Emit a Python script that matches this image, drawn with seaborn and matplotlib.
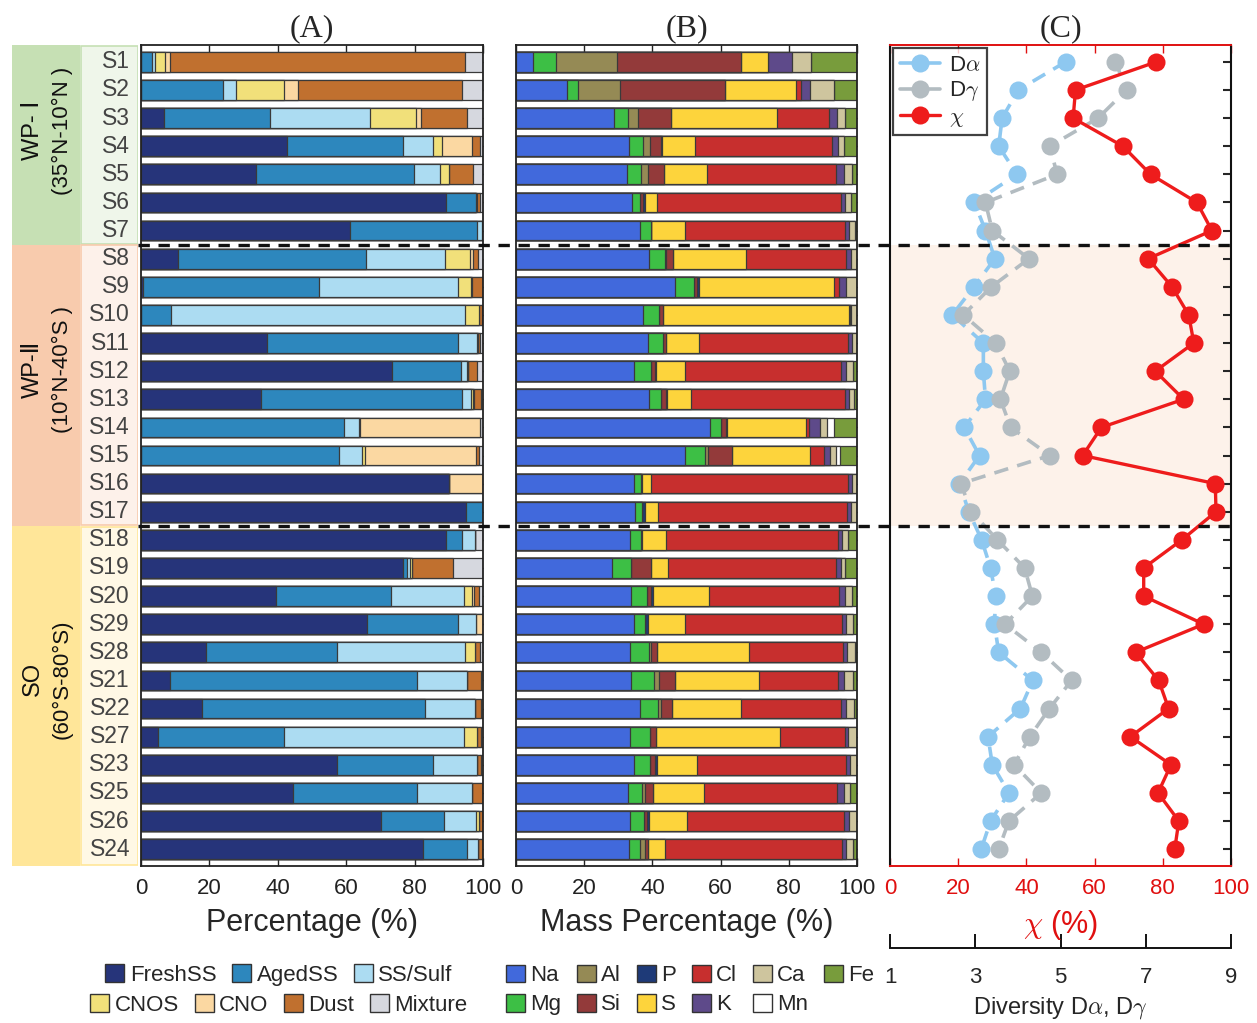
import matplotlib
matplotlib.use("Agg")
import matplotlib.pyplot as plt
import matplotlib.transforms as mtrans
from matplotlib.patches import Rectangle, Patch
from matplotlib.lines import Line2D
import numpy as np
import pandas as pd
import seaborn as sns

# ---------------- data ----------------
samples = ["S1", "S2", "S3", "S4", "S5", "S6", "S7",
           "S8", "S9", "S10", "S11", "S12", "S13", "S14", "S15", "S16", "S17",
           "S18", "S19", "S20", "S29", "S28", "S21", "S22", "S27", "S23", "S25", "S26", "S24"]

group_names = ["WP- Ⅰ", "WP-Ⅱ", "SO"]
group_ranges = ["(35°N-10°N )", "(10°N-40°S )", "(60°S-80°S)"]
group_sizes = [7, 10, 12]

# (A) particle types, % of particles per sample
type_names = ["FreshSS", "AgedSS", "SS/Sulf", "CNOS", "CNO", "Dust", "Mixture"]
fresh_ss = [0, 0, 6.7, 42.6, 33.7, 89.3, 61.1, 10.7, 0.5, 0, 36.9, 73.5, 35.1, 0, 0, 90.0, 94.9,
            89.1, 76.7, 39.6, 66.2, 19.1, 8.6, 17.7, 5.0, 57.2, 44.5, 70.2, 82.5]
aged_ss = [3.2, 23.9, 31.0, 34.0, 46.1, 8.6, 37.0, 55.1, 51.5, 8.9, 55.9, 20.2, 58.9, 59.3, 57.9, 0, 5.1,
           4.9, 1.0, 33.4, 26.6, 38.3, 72.0, 65.3, 36.8, 28.2, 36.3, 18.4, 12.9]
ss_sulf = [0.8, 4.0, 29.2, 8.7, 7.6, 0, 1.5, 23.0, 40.8, 85.8, 5.3, 1.6, 2.6, 4.4, 6.6, 0, 0,
           3.6, 1.1, 21.4, 5.2, 37.3, 14.6, 14.7, 52.6, 12.9, 15.9, 9.4, 3.1]
cnos = [2.9, 14.0, 13.4, 2.6, 2.8, 0, 0, 7.4, 3.8, 4.0, 0.3, 0.3, 0.4, 0.3, 0.9, 0, 0,
        0, 0.3, 2.3, 0, 2.9, 0, 0, 3.9, 0, 0, 0.7, 0]
cno = [1.5, 4.1, 1.7, 8.8, 0, 0.3, 0, 1.0, 0.2, 0, 0, 0, 0.4, 35.0, 32.5, 10.0, 0,
       0, 0, 0.7, 2.0, 0, 0, 0, 0, 0, 0, 0, 0]
dust = [86.3, 48.0, 13.4, 2.3, 7.0, 0.8, 0, 1.3, 3.2, 1.0, 0.8, 2.7, 1.9, 0, 0.8, 0, 0,
        0, 12.2, 1.3, 0, 1.4, 4.1, 1.8, 1.0, 1.0, 3.3, 1.3, 1.5]
mixture = [5.3, 6.0, 4.6, 1.0, 2.8, 1.0, 0.4, 1.5, 0, 0.3, 0.8, 1.7, 0.7, 1.0, 1.3, 0, 0,
           2.4, 8.7, 1.3, 0, 1.0, 0.7, 0.5, 0.7, 0.7, 0, 0, 0]

# (B) elemental mass percentage per sample
element_names = ["Na", "Mg", "Al", "Si", "P", "S", "Cl", "K", "Ca", "Mn", "Fe"]
na = [5.1, 15.1, 28.6, 33.2, 32.6, 34.1, 36.4, 38.9, 46.5, 37.2, 38.7, 34.6, 39.0, 56.8, 49.7, 34.6, 34.8,
      33.5, 28.2, 33.8, 34.6, 33.3, 33.8, 36.3, 33.3, 34.6, 32.8, 33.3, 33.0]
mg = [6.6, 3.1, 4.2, 3.9, 4.2, 2.3, 3.3, 4.7, 5.6, 4.6, 4.4, 4.9, 3.6, 3.4, 5.6, 2.0, 2.2,
      3.1, 5.4, 4.6, 3.3, 5.7, 6.7, 5.3, 6.1, 4.6, 4.2, 4.2, 3.3]
al = [17.9, 12.2, 3.0, 2.1, 1.9, 0, 0, 0.5, 0, 0, 0, 0, 0, 0, 1.0, 0, 0,
      0, 0, 0, 0, 0.7, 1.3, 0.8, 0, 0, 0.7, 0, 1.4]
si = [36.3, 30.8, 9.8, 3.2, 4.6, 0.7, 0, 1.9, 1.1, 1.3, 1.0, 1.2, 1.3, 1.3, 7.0, 0, 0,
      0, 6.1, 1.3, 0, 1.7, 4.9, 3.4, 1.8, 1.7, 2.5, 1.0, 1.0]
p = [0, 0, 0, 0.4, 0, 0.6, 0, 0, 0.5, 0, 0, 0.5, 0.5, 0.5, 0, 0.4, 0.7,
     0.4, 0, 0.5, 0.8, 0, 0, 0, 0, 0.5, 0, 0.4, 0]
s = [8.0, 20.8, 30.9, 9.6, 12.8, 3.7, 9.8, 21.5, 39.6, 54.5, 9.5, 8.3, 7.0, 22.9, 22.8, 2.5, 3.9,
     7.1, 4.9, 16.4, 10.8, 26.8, 24.5, 20.1, 36.1, 11.8, 14.9, 11.1, 5.1]
cl = [0, 1.7, 15.3, 40.3, 37.6, 53.8, 46.9, 29.4, 1.4, 0.4, 43.8, 45.9, 45.0, 1.0, 4.2, 57.9, 55.5,
      50.3, 49.3, 38.1, 46.1, 27.7, 23.2, 29.5, 19.1, 43.7, 39.1, 46.2, 51.9]
k = [7.0, 2.5, 2.3, 1.7, 2.5, 1.2, 1.4, 1.4, 2.2, 0.3, 1.1, 1.5, 1.3, 3.2, 1.7, 1.1, 1.2,
     1.3, 1.5, 1.7, 1.3, 1.2, 1.7, 1.5, 1.0, 1.1, 1.9, 1.6, 1.2]
ca = [5.5, 7.1, 2.5, 1.8, 2.3, 1.7, 1.6, 1.7, 3.1, 1.7, 1.5, 1.9, 1.4, 2.0, 1.7, 1.5, 1.7,
      1.7, 1.2, 2.1, 1.9, 2.2, 2.7, 2.1, 2.6, 2.0, 1.9, 2.2, 1.9]
mn = [0, 0, 0, 0, 0, 0, 0, 0, 0, 0, 0, 0, 0, 2.3, 1.2, 0, 0,
      0, 0, 0, 0, 0, 0, 0, 0, 0, 0, 0, 0]
fe = [13.6, 6.7, 3.4, 3.8, 1.5, 1.9, 0.6, 0, 0, 0, 0, 1.2, 0.9, 6.6, 5.1, 0, 0,
      2.6, 3.4, 1.5, 1.2, 0.7, 1.2, 1.0, 0, 0, 2.0, 0, 1.2]

# (C) mixing state index and diversities
chi = [78.1, 54.4, 53.7, 68.3, 76.4, 90.0, 94.4, 75.7, 82.7, 87.6, 89.1, 77.8, 86.1, 62.0, 56.5, 95.4, 95.6,
       85.6, 74.4, 74.4, 92.0, 72.0, 78.8, 81.7, 70.5, 82.4, 78.6, 84.7, 83.5]
d_alpha = [5.12, 4.01, 3.63, 3.55, 3.98, 2.98, 3.24, 3.46, 2.97, 2.46, 3.19, 3.19, 3.24, 2.74, 3.10, 2.63, 2.85,
           3.15, 3.36, 3.48, 3.45, 3.55, 4.35, 4.06, 3.30, 3.40, 3.79, 3.36, 3.14]
d_gamma = [6.29, 6.55, 5.88, 4.75, 4.92, 3.24, 3.40, 4.26, 3.38, 2.72, 3.48, 3.81, 3.59, 3.83, 4.75, 2.66, 2.91,
           3.52, 4.16, 4.34, 3.70, 4.55, 5.26, 4.74, 4.28, 3.91, 4.55, 3.79, 3.55]

type_colors = ["#26347a", "#2d87bd", "#acdcf2", "#f1e07a", "#fbd8a2", "#c0702f", "#d6d8df"]
element_colors = ["#4169dc", "#3dbf45", "#958a55", "#933a3a", "#1e3a78", "#fdd43c",
                  "#c72f2e", "#5e4a8a", "#cec59e", "#ffffff", "#789c3c"]

# ---------------- style ----------------
sns.set_style("white")
plt.rcParams["font.family"] = ["Liberation Sans", "DejaVu Sans"]
plt.rcParams["mathtext.fontset"] = "cm"

W, H = 1257, 1023
fig = plt.figure(figsize=(W / 100, H / 100), dpi=100)


def box(x0, y0, x1, y1):
    return [x0 / W, 1 - y1 / H, (x1 - x0) / W, (y1 - y0) / H]


ax_a = fig.add_axes(box(141, 45, 483, 866))
ax_b = fig.add_axes(box(516, 45, 857, 866))
ax_c = fig.add_axes(box(890, 45, 1231, 866))
ax_l = fig.add_axes(box(12, 45, 138, 866))

n = len(samples)
rows = np.arange(n)
ylim = (n - 0.4, -0.6)
edge = "#3a3a3a"


def stacked(ax, layers, colors):
    cum = np.cumsum(np.array(layers, dtype=float), axis=0)
    # longest cumulative bar first, each shorter one painted on top
    for j in range(len(layers) - 1, -1, -1):
        df = pd.DataFrame({"sample": samples, "value": cum[j]})
        sns.barplot(data=df, x="value", y="sample", order=samples, orient="h",
                    color=colors[j], saturation=1, width=0.7, errorbar=None,
                    edgecolor=edge, linewidth=0.9, ax=ax)
    ax.set_xlim(0, 100)
    ax.set_ylim(*ylim)
    ax.set_xticks(np.arange(0, 101, 20))
    ax.set_yticks(rows)
    ax.set_yticklabels([])
    ax.set_ylabel("")
    ax.tick_params(axis="x", direction="in", top=True, bottom=True, length=6, width=1,
                   labelsize=16, pad=9, colors="#222")
    ax.tick_params(axis="y", direction="in", left=True, right=True, length=4, width=1,
                   labelleft=False)
    for sp in ax.spines.values():
        sp.set_visible(True)
        sp.set_color("#222")
        sp.set_linewidth(1.3)


stacked(ax_a, [fresh_ss, aged_ss, ss_sulf, cnos, cno, dust, mixture], type_colors)
stacked(ax_b, [na, mg, al, si, p, s, cl, k, ca, mn, fe], element_colors)
ax_a.set_xlabel("Percentage (%)", fontsize=22, labelpad=6)
ax_b.set_xlabel("Mass Percentage (%)", fontsize=22, labelpad=6)

for ax, t in [(ax_a, "(A)"), (ax_b, "(B)"), (ax_c, "(C)")]:
    ax.set_title(t, fontfamily="Liberation Serif", fontsize=23, pad=6)

# ---------------- region / sample labels ----------------
group_fill = ["#c6e0b4", "#f8cbad", "#ffe699"]
label_fill = ["#eff6ea", "#fdf1ea", "#fff8e5"]
ax_l.set_xlim(12, 138)
ax_l.set_ylim(*ylim)
ax_l.axis("off")
start = 0
for g in range(3):
    top = ylim[1] if g == 0 else start - 0.5
    bottom = ylim[0] if g == 2 else start + group_sizes[g] - 0.5
    ax_l.add_patch(Rectangle((12, top), 68, bottom - top, facecolor=group_fill[g], edgecolor="none"))
    ax_l.add_patch(Rectangle((80.5, top + 0.03), 57, bottom - top - 0.06, facecolor=label_fill[g],
                             edgecolor=group_fill[g], linewidth=1.2))
    mid = start + (group_sizes[g] - 1) / 2
    ax_l.text(33, mid - 0.55, group_names[g], rotation=90, ha="center", va="center",
              fontsize=17, color="#111")
    ax_l.text(62, mid - 0.55, group_ranges[g], rotation=90, ha="center", va="center",
              fontsize=16, color="#111")
    start += group_sizes[g]
for i, name in enumerate(samples):
    ax_l.text(130, i, name, ha="right", va="center", fontsize=16.5, color="#444")

# ---------------- panel C ----------------
ax_d = ax_c.twiny()
ax_c.set_zorder(ax_d.get_zorder() + 1)
ax_c.patch.set_visible(False)
ax_d.set_xlim(1, 9)
ax_d.axhspan(6.5, 16.5, color="#fdf2ea", zorder=0, linewidth=0)

sns.lineplot(x=d_alpha, y=rows, sort=False, estimator=None, ax=ax_d, color="#8ec8f0",
             marker="o", markersize=13, markeredgewidth=0, linewidth=2.6, linestyle="--")
sns.lineplot(x=d_gamma, y=rows, sort=False, estimator=None, ax=ax_d, color="#b3bcc1",
             marker="o", markersize=13, markeredgewidth=0, linewidth=2.6, linestyle="--")
for ln in ax_d.lines:
    ln.set_dashes([4.0, 2.6])
sns.lineplot(x=chi, y=rows, sort=False, estimator=None, ax=ax_c, color="#ee1c1c",
             marker="o", markersize=13, markeredgewidth=0, linewidth=2.4)

ax_c.set_xlim(0, 100)
ax_c.set_ylim(*ylim)
ax_d.set_ylim(*ylim)
ax_d.tick_params(top=False, bottom=False, labeltop=False, labelbottom=False,
                 left=False, right=False)
for sp in ax_d.spines.values():
    sp.set_visible(False)
ax_c.set_xticks(np.arange(0, 101, 20))
ax_c.set_yticks(rows)
ax_c.set_yticklabels([])
ax_c.tick_params(axis="x", direction="in", top=True, bottom=True, length=6, width=1,
                 labelsize=16, pad=9, colors="#e01010")
ax_c.tick_params(axis="y", direction="in", left=False, right=True, length=6, width=1.5,
                 labelleft=False, labelright=False)
for side in ["top", "bottom"]:
    ax_c.spines[side].set_color("#e01010")
    ax_c.spines[side].set_linewidth(1.4)
for side in ["left", "right"]:
    ax_c.spines[side].set_color("#111")
    ax_c.spines[side].set_linewidth(1.5)
for sp in ax_c.spines.values():
    sp.set_visible(True)
ax_c.set_xlabel(r"$\chi$ (%)", fontsize=22, color="#e01010", labelpad=6)
ax_c.set_ylabel("")

handles = [ax_d.lines[0], ax_d.lines[1], ax_c.lines[0]]
leg = ax_c.legend(handles, [r"D$\alpha$", r"D$\gamma$", r"$\chi$"], loc="upper left",
                  fontsize=16, frameon=True, fancybox=False, borderaxespad=0.15,
                  handlelength=1.8, handletextpad=0.4, labelspacing=0.15, borderpad=0.3)
leg.get_frame().set_edgecolor("#111")
leg.get_frame().set_linewidth(1.6)
for h in leg.get_lines():
    h.set_linestyle("-")

# diversity scale under panel C
ax_div = fig.add_axes(box(890, 947, 1231, 948))
ax_div.set_xlim(1, 9)
ax_div.set_yticks([])
ax_div.set_xticks([1, 3, 5, 7, 9])
for side in ["left", "right", "top"]:
    ax_div.spines[side].set_visible(False)
ax_div.spines["bottom"].set_color("#111")
ax_div.spines["bottom"].set_linewidth(1.4)
ax_div.tick_params(axis="x", direction="in", bottom=True, length=10, width=1.4,
                   labelsize=16, pad=14, color="#111")
ax_div.patch.set_visible(False)
ax_div.set_xlabel(r"Diversity D$\alpha$, D$\gamma$", fontsize=17, labelpad=5)

# dashed region separators across all panels
tr = mtrans.blended_transform_factory(fig.transFigure, ax_a.transData)
for yb in [group_sizes[0] - 0.5, group_sizes[0] + group_sizes[1] - 0.5]:
    fig.add_artist(Line2D([138 / W, 1238 / W], [yb, yb], transform=tr, color="#111",
                          linewidth=2.4, linestyle="--", dashes=(3.4, 2.6), zorder=10))

# ---------------- legends ----------------
def patches(names, colors):
    return [Patch(facecolor=c, edgecolor="#333", linewidth=1.0, label=nm) for nm, c in zip(names, colors)]

leg_kw = dict(frameon=False, fontsize=16, handlelength=0.85, handleheight=0.85,
              handletextpad=0.25, columnspacing=0.7, borderpad=0, loc="center")
fig.legend(handles=patches(type_names[:3], type_colors[:3]), ncol=3,
           bbox_to_anchor=(279 / W, 1 - 975 / H), **leg_kw)
fig.legend(handles=patches(type_names[3:], type_colors[3:]), ncol=4,
           bbox_to_anchor=(279 / W, 1 - 1005 / H), **leg_kw)
fig.legend(handles=patches(element_names, element_colors), ncol=6, labelspacing=0.35,
           bbox_to_anchor=(690 / W, 1 - 990 / H), **leg_kw)

fig.savefig("out.png", dpi=100, facecolor="white")
